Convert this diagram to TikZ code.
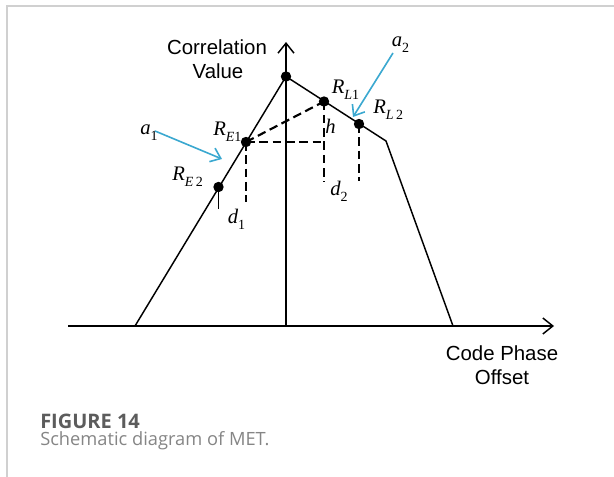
\documentclass[tikz,border=0pt]{standalone}
\usepackage{fontspec}
\setmainfont{Liberation Sans}
\newfontfamily\tms{Liberation Serif}
\newfontfamily\capfont{Open Sans}
\usetikzlibrary{arrows.meta}
\definecolor{arrowblue}{HTML}{3AA8D0}
\definecolor{capgray}{HTML}{666666}
\definecolor{framegray}{HTML}{D0D0D0}
\newcommand\mylab[2]{{\tms\itshape #1}\raisebox{-4.3pt}{\tms\fontsize{10.5}{10.5}\selectfont #2}}
\begin{document}
\begin{tikzpicture}[x=0.75pt,y=-0.75pt,
  curve/.style={line width=1.1pt,line join=miter},
  axisline/.style={line width=1.1pt,-{Straight Barb[length=7.5pt,width=12pt,line width=1.1pt]}},
  dashline/.style={line width=1.6pt,dash pattern=on 6.5pt off 3.5pt},
  bluearrow/.style={arrowblue,line width=1.2pt,-{Straight Barb[length=7pt,width=11pt,line width=1.2pt]}},
  dot/.style={circle,fill=black,inner sep=0pt,minimum size=7.8pt},
  mathlab/.style={inner sep=0pt,anchor=base west,font=\fontsize{15.5}{15.5}\selectfont},
  sanslab/.style={inner sep=0pt,anchor=base,font=\fontsize{15.3}{15.3}\selectfont},
]
\useasboundingbox (0,0) rectangle (614,477);
% frame lines
\draw[framegray,line width=1pt] (7,477) -- (7,6) -- (614,6);

% coordinates
\coordinate (xs) at (68,326);
\coordinate (xe) at (554,326);
\coordinate (o) at (286,326);
\coordinate (ye) at (286,42);
\coordinate (lb) at (135,326);
\coordinate (rb) at (453,326);
\coordinate (pk) at (286,76.5);
\coordinate (cr) at (386,141);
\coordinate (E1) at (246,142);
\coordinate (E2) at (218.5,187);
\coordinate (L1) at (324,101.5);
\coordinate (L2) at (359,124);
\coordinate (E1d) at (246,202);
\coordinate (E2d) at (218.5,209);
\coordinate (L1d) at (324,182);
\coordinate (L2d) at (359,181);
\coordinate (hc) at (324,142);

% axes
\draw[axisline] (xs) -- (xe);
\draw[axisline] (o) -- (ye);

% curve
\draw[curve] (lb) -- (pk) -- (cr) -- (rb);

% dashed
\draw[dashline] (E1) -- (L1);
\draw[dashline] (E1) -- (hc);
\draw[dashline] (L1) -- (L1d);
\draw[dashline] (E1) -- (E1d);
\draw[dashline] (L2) -- (L2d);
\draw[line width=1.4pt] (E2) -- (E2d);

% dots
\node[dot] (pkd) at (pk) {};
\node[dot] (E1n) at (E1) {};
\node[dot] (E2n) at (E2) {};
\node[dot] (L1n) at (L1) {};
\node[dot] (L2n) at (L2) {};

% labels
\node[sanslab] (t1) at (217,55) {Correlation};
\node[sanslab] (t2) at (218,79) {Value};
\node[sanslab] (t3) at (502,360) {Code Phase};
\node[sanslab] (t4) at (502,384) {Offset};

\node[mathlab] (la1) at (140,135) {\mylab{a}{1}};
\node[mathlab] (la2) at (391.5,46.5) {\mylab{a}{2}};
\node[mathlab] (lE1) at (213,136) {\mylab{R}{\textit{E}1}};
\node[mathlab] (lE2) at (172,180.7) {\mylab{R}{\textit{E}\,2}};
\node[mathlab] (lL1) at (331.5,93.3) {\mylab{R}{\textit{L}1}};
\node[mathlab] (lL2) at (373,113.3) {\mylab{R}{\textit{L}\,2}};
\node[mathlab] (lh) at (325,133.3) {{\tms\itshape h}};
\node[mathlab] (ld1) at (227.5,223.3) {\mylab{d}{1}};
\node[mathlab] (ld2) at (330,196) {\mylab{d}{2}};

% blue arrows
\coordinate (a1s) at (155,131);
\coordinate (a1e) at (222,159);
\coordinate (a2s) at (393,53);
\coordinate (a2e) at (353,117);
\draw[bluearrow] (a1s) -- (a1e);
\draw[bluearrow] (a2s) -- (a2e);

% caption
\node[inner sep=0pt,anchor=base west,text=capgray!90!black,font=\capfont\bfseries\fontsize{15}{15}\selectfont] (cap1) at (40,428) {FIGURE 14};
\node[inner sep=0pt,anchor=base west,text=capgray!80,font=\capfont\fontsize{13.7}{13.7}\selectfont] (cap2) at (40,445) {Schematic diagram of MET.};
\end{tikzpicture}
\end{document}
